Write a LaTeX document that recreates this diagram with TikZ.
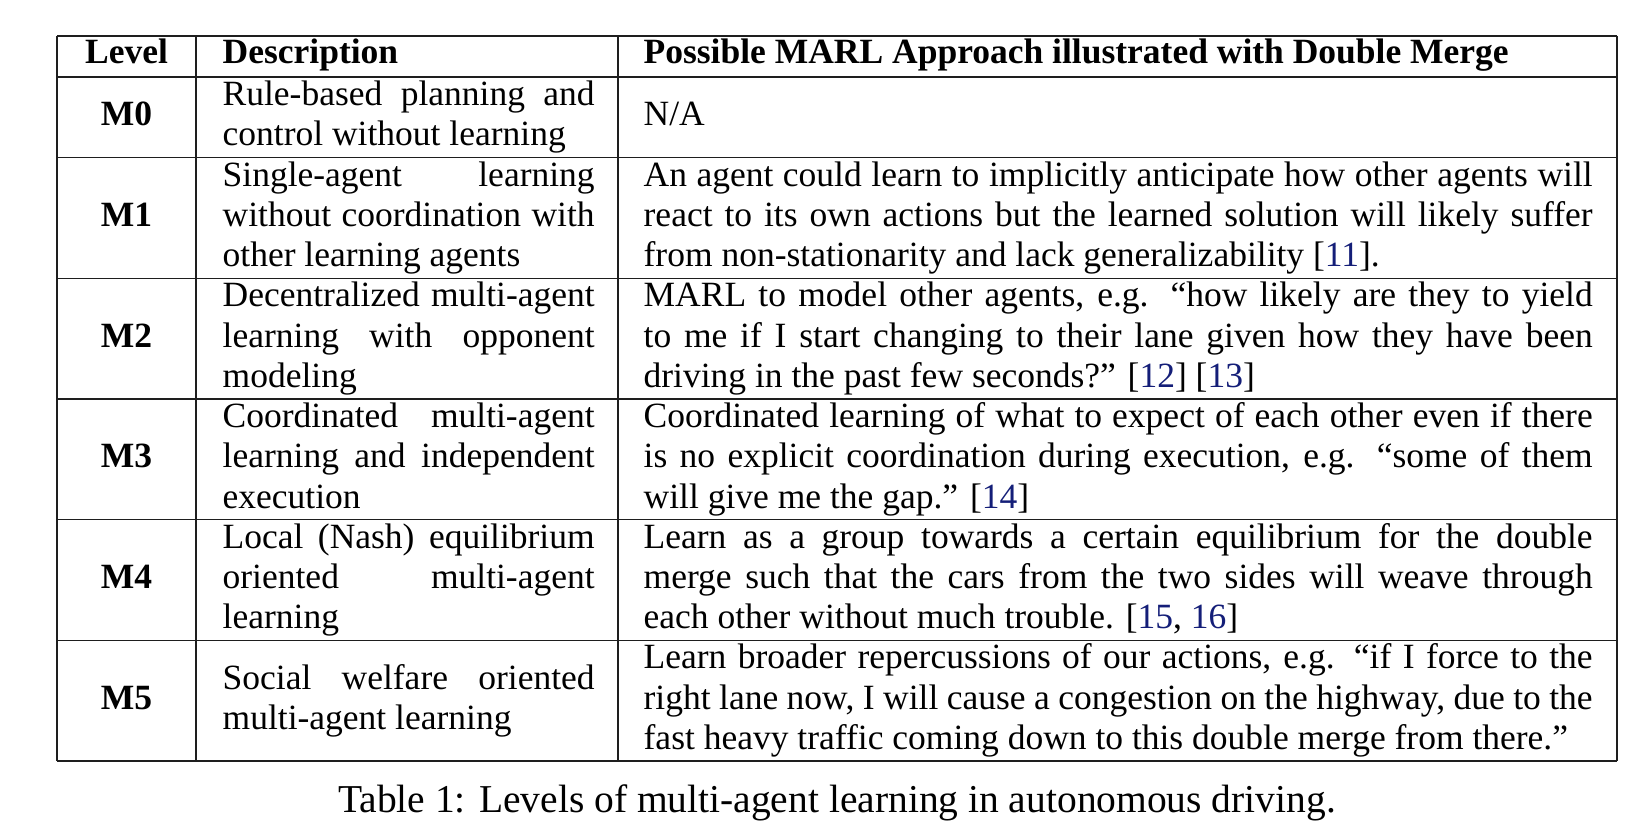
\documentclass[tikz,border=0pt]{standalone}
\usepackage{fontspec}
\setmainfont{Liberation Serif}
\usepackage{xcolor}
\definecolor{citeblue}{RGB}{20,30,120}
\definecolor{rulegray}{RGB}{30,30,30}
\newcommand{\cellfont}{\fontsize{10.65pt}{12.06pt}\selectfont}
\newcommand{\jline}[1]{\makebox[\linewidth][s]{#1}\\}
\newcommand{\cit}[1]{\textcolor{citeblue}{#1}}
\newcommand{\cellbox}[2]{\parbox[t]{#1}{\cellfont #2}}
\hbadness=10000
\begin{document}
\begin{tikzpicture}[x=0.3pt,y=-0.3pt,
  cell/.style={inner sep=0pt, anchor=base west},
  lab/.style={inner sep=0pt, anchor=base, font=\cellfont\bfseries},
  head/.style={inner sep=0pt, anchor=base west, font=\cellfont\bfseries},
  rulel/.style={draw=rulegray, line width=0.45pt}]
\fill[white] (0,0) rectangle (1648,840);
\useasboundingbox (0,0) rectangle (1648,840);
% grid
\foreach \yy in {36,77,157.7,278.3,399,519.6,640.3,761}
  \draw[rulel] (57,\yy) -- (1617,\yy);
\foreach \xx in {57,196,618,1617}
  \draw[rulel] (\xx,36) -- (\xx,761);
% header
\node[lab] (hlevel) at (126.5,63.3) {Level};
\node[head] (hdesc) at (222,63.3) {Description};
\node[head] (happr) at (643,63.3) {Possible MARL Approach illustrated with Double Merge};
% M0
\node[lab] (l0) at (126.5,125.7) {M0};
\node[cell] (d0) at (222,105.6) {\cellbox{111.6pt}{\jline{Rule-based planning and}control without learning}};
\node[cell] (a0) at (643,125.7) {\cellbox{284.7pt}{N/A}};
% M1
\node[lab] (l1) at (126.5,226.5) {M1};
\node[cell] (d1) at (222,186.3) {\cellbox{111.6pt}{\jline{Single-agent learning}\jline{without coordination with}other learning agents}};
\node[cell] (a1) at (643,186.3) {\cellbox{284.7pt}{\jline{An agent could learn to implicitly anticipate how other agents will}\jline{react to its own actions but the learned solution will likely suffer}from non-stationarity and lack generalizability [\cit{11}].}};
% M2
\node[lab] (l2) at (126.5,347.1) {M2};
\node[cell] (d2) at (222,306.9) {\cellbox{111.6pt}{\jline{Decentralized multi-agent}\jline{learning with opponent}modeling}};
\node[cell] (a2) at (643,306.9) {\cellbox{284.7pt}{\jline{MARL to model other agents, e.g. “how likely are they to yield}\jline{to me if I start changing to their lane given how they have been}driving in the past few seconds?” [\cit{12}] [\cit{13}]}};
% M3
\node[lab] (l3) at (126.5,467.8) {M3};
\node[cell] (d3) at (222,427.6) {\cellbox{111.6pt}{\jline{Coordinated multi-agent}\jline{learning and independent}execution}};
\node[cell] (a3) at (643,427.6) {\cellbox{284.7pt}{\jline{Coordinated learning of what to expect of each other even if there}\jline{is no explicit coordination during execution, e.g. “some of them}will give me the gap.” [\cit{14}]}};
% M4
\node[lab] (l4) at (126.5,588.4) {M4};
\node[cell] (d4) at (222,548.2) {\cellbox{111.6pt}{\jline{Local (Nash) equilibrium}\jline{oriented multi-agent}learning}};
\node[cell] (a4) at (643,548.2) {\cellbox{284.7pt}{\jline{Learn as a group towards a certain equilibrium for the double}\jline{merge such that the cars from the two sides will weave through}each other without much trouble. [\cit{15}, \cit{16}]}};
% M5
\node[lab] (l5) at (126.5,709.1) {M5};
\node[cell] (d5) at (222,689) {\cellbox{111.6pt}{\jline{Social welfare oriented}multi-agent learning}};
\node[cell] (a5) at (643,668.9) {\cellbox{284.7pt}{\jline{Learn broader repercussions of our actions, e.g. “if I force to the}\jline{right lane now, I will cause a congestion on the highway, due to the}fast heavy traffic coming down to this double merge from there.”}};
% caption
\node[inner sep=0pt, anchor=base, font=\fontsize{11.85pt}{14pt}\selectfont] (cap) at (837,812.7) {Table 1: Levels of multi-agent learning in autonomous driving.};
\end{tikzpicture}
\end{document}
